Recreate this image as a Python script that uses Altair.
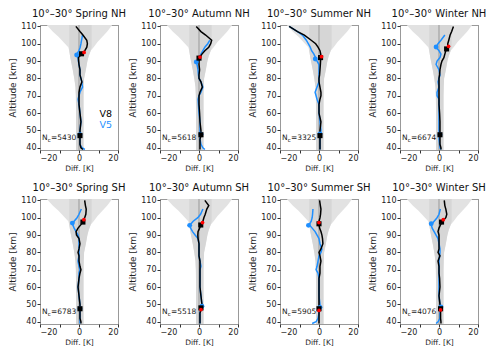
import altair as alt
import pandas as pd

# Altitude grid (km) shared by all profiles
ALT = [39, 40, 42, 45, 47, 50, 55, 60, 65, 68, 70, 72, 75, 78, 80, 82, 85, 88,
       90, 92, 94, 96, 98, 100, 102, 105, 107, 110]

PANELS = ["Spring NH", "Autumn NH", "Summer NH", "Winter NH",
          "Spring SH", "Autumn SH", "Summer SH", "Winter SH"]
NC = [5430, 5618, 3325, 6674, 6783, 5518, 5905, 4076]

N = None
V8 = [
    [2, 1, 0.5, 0.5, 0.5, 0.5, 1, 0.5, 0, 0, 0, 0, 0.5, 1.5, 1, 0.5, 0.5, 0, -0.2, -0.3, 1.3, 3, 4, 4.3, 4, 2, 0.5, -1.6],
    [0.5, 0.5, 0.5, 0.5, 1, 1, 0.5, 0.3, 0, 0, 0, 0.5, 1.7, 1, 0, 0, 0.3, 0, 0, 0.3, 1.5, 3, 5, 6, 6.5, 3.4, 1, -1.4],
    [0.5, 0.5, 0.5, 0.5, 0.5, 0.5, 1, 0, 0, 0.5, 1, 1, 0.5, 0, 0, 0.3, 0.5, 0.7, 0.8, 0.9, 0.9, 0.5, -0.5, -1.7, -4, -7.5, -11, -15.3],
    [1, 1, 0.5, 0.5, 0.5, 0.5, 0.5, 0.3, 0, 0, 0, 0, 0, 0, 0, 0.3, 0.5, 1, 1.5, 2.5, 3, 3.5, 4.5, 4.5, 5, 5.7, 6.5, 7.4],
    [1, 1, 0.5, 0.5, 0.5, 0.5, 0, -0.5, 0, 0.5, 1, 0.5, 0, 0, -0.5, 0, 0.5, 0, -1.3, -1.5, -0.5, 1, 2.2, 2.9, 3.5, 3.7, 3.3, 2.9],
    [0.5, 0.5, 0.5, 0.5, 1, 1.5, 1, 0.5, 0.5, 0.5, 0.5, 0.5, 0.5, 0, 0, 0, 0, -0.5, -0.6, -0.5, 0.3, 1, 2, 2.5, 3.2, 4, 5, 3],
    [0, 0, 0, 0, 0, 0, 0, 0, 0, 0.5, 0.5, 0.5, 1, 0.5, 0, 1, 2, 1.8, 1.5, 1, 0.3, 0, 0, 0.5, 0.8, 1, 0.7, 0.3],
    [1, 1, 0.8, 0.8, 0.8, 0.5, 0, 0.5, 0.3, 0, 0, 0, -0.5, 0.5, -0.5, 0, 0, 0, 0, -0.5, 0, 0.8, 1.8, 3.5, 4, 3.5, 3, 2.7],
]
V5 = [
    [3, 1.5, 0.5, 0.5, 0.5, 0.5, 1, 0.5, 0, -0.5, 0, 0.5, 1.8, 1.4, 1, 0.5, 0.5, 0, -0.3, -0.5, -1.2, 0, 0.6, 1, 1.3, 1.8, N, N],
    [3, 2, 1, 0.5, 0.5, 0.5, 0.5, 0, -0.3, -0.5, 0, 1, 2, 1, 0, -0.3, -0.5, -1, -1.2, 0, 1, 2, 3, 4.5, 5.5, N, N, N],
    [0.5, 0.5, 0.5, 0.5, 0.5, 1, 0.5, 0, 0, -1, -1.5, -2, -1, 0, 0, 0, 0, 0, -1, -1.8, -2.6, -3.8, -4.5, -5.5, -6.5, -8.5, -11, -15.3],
    [1, 0.5, 0.3, 0, 0.3, 0, 0, 0, 0, 0, -1, -1, 0, -0.5, 0, 0.5, 0, -1.5, -1, 0.5, 1, 0, -1.5, -0.5, 1, 3, N, N],
    [0.5, 0.5, 0.5, 0.5, 0.5, 0.5, 0, -0.5, 0, 0, 0.5, 0, -0.5, 0, 0, 0, 0, 0, -0.5, -1.5, -2.5, -3.2, -2.5, -1, 0, 1.2, N, N],
    [0.5, 0.5, 0.5, 0.5, 1, 1.5, 1, 0.5, 0.5, 0.5, 0.5, 1, 0.5, 0, 0, 0, 0, -0.5, -2, -3.3, -4.3, -4.5, -3, -0.6, 0.8, 2, N, N],
    [-3.5, -1.5, -0.5, 0, 0.5, 0.5, 0, 0, 0, -0.5, -1.5, -1, -0.5, 0, 1, 1.5, 0.5, 0, -1, -2, -3.5, -5, -4, -3.5, -3.3, -3.1, N, N],
    [-1.5, -0.5, 0.5, 0.5, 1, 0.5, 0, 0, 0, 0, 0, 0, 0, 0.3, 0.5, 0.5, 0, -0.5, -1.5, -2.5, -3.5, -4, -2.5, -1, 0, 0.7, N, N],
]

# Marker points (diff, altitude)
V8_UP = [(1.3, 94.2), (0, 91.7), (0.8, 92), (3.9, 97), (2, 97.5), (0.9, 95.8), (0, 96.5), (1.3, 97.5)]
RED_UP = [(2.6, 95), (0.5, 92.3), (1.3, 92.5), (4.9, 98.5), (2.5, 98.9), (1.8, 97.2), (0, 97.2), (2.2, 98.9)]
V5_UP = [(-1.2, 93.5), (-1.4, 89.5), (-1.9, 91.2), (-1.5, 98.1), (-3.4, 96.9), (-4.8, 95.6), (-5.4, 95.6), (-4, 96.5)]
V8_LO = [(0.5, 47), (1, 47.5), (0.5, 47), (0.5, 47.5), (0.5, 47.5), (1, 48), (0, 47.5), (0.8, 47.5)]
V5_LO = [(0.5, 47.5), (1, 47.8), (0.5, 48), (0.5, 47.5), (0.5, 47.5), (1.5, 49), (0.5, 48.3), (1, 48.5)]
RED_LO = [N, N, N, N, N, (1, 47), (0, 46.5), (0.8, 46.8)]

# Variability band (grey shading)
BAND_ALT = [38.7, 50, 60, 70, 75, 80, 85, 90, 93, 96, 98, 101, 104, 107, 110.8]
OUTER_LO = [-1.5, -1.5, -1.5, -1.6, -1.8, -2.4, -3.2, -4.1, -4.6, -5, -5.5, -8, -10.5, -13.5, -16.5]
OUTER_HI = [2.3, 2.3, 2.3, 2.3, 2.4, 2.6, 3.5, 4.3, 5.0, 6, 7.5, 9.5, 12, 14.5, 17]
INNER_LO = [-1.5, -1.5, -1.5, -1.6, -1.8, -2.4, -3.2, -4.1, -4.6, -5, -5, -5, -5, -5, -5]
INNER_HI = [2.3, 2.3, 2.3, 2.3, 2.4, 2.6, 3.5, 4.3, 5.0, 6, 6.5, 6.5, 6.5, 6.5, 6.5]

X_DOMAIN = [-20, 20]
Y_DOMAIN = [38.7, 110.8]
X_TICKS = [-20, -10, 0, 10, 20]
Y_TICKS = [40, 50, 60, 70, 80, 90, 100, 110]

BLUE = "#1e8fff"
FONT = "DejaVu Sans"

xscale = alt.Scale(domain=X_DOMAIN, nice=False)
yscale = alt.Scale(domain=Y_DOMAIN, nice=False, zero=False)
xaxis = alt.Axis(title="Diff. [K]", values=X_TICKS, titleFontSize=7.5, titlePadding=2)
yaxis = alt.Axis(title="Altitude [km]", values=Y_TICKS, titleFontSize=9, titlePadding=3)


def X(field):
    return alt.X(field, type="quantitative", scale=xscale, axis=xaxis)


def Y(field):
    return alt.Y(field, type="quantitative", scale=yscale, axis=yaxis)


band = pd.DataFrame({"alt": BAND_ALT, "olo": OUTER_LO, "ohi": OUTER_HI,
                     "ilo": INNER_LO, "ihi": INNER_HI})


def pts(lst):
    return pd.DataFrame([{"diff": p[0], "alt": p[1]} for p in lst if p is not None])


def panel(i):
    d8 = pd.DataFrame({"alt": ALT, "diff": V8[i]})
    d5 = pd.DataFrame({"alt": ALT, "diff": V5[i]}).dropna()

    outer = alt.Chart(band).mark_area(orient="horizontal", color="#e2e2e2").encode(
        y=Y("alt"), x=X("olo"), x2="ohi")
    inner = alt.Chart(band).mark_area(orient="horizontal", color="#d6d6d6").encode(
        y=Y("alt"), x=X("ilo"), x2="ihi")
    zero = alt.Chart(pd.DataFrame({"z": [0]})).mark_rule(color="#999999", strokeWidth=1).encode(x=X("z"))
    l5 = alt.Chart(d5).mark_line(color=BLUE, strokeWidth=1.5).encode(x=X("diff"), y=Y("alt"), order="alt:Q")
    l8 = alt.Chart(d8).mark_line(color="black", strokeWidth=1.5).encode(x=X("diff"), y=Y("alt"), order="alt:Q")

    b5 = alt.Chart(pts([V5_UP[i], V5_LO[i]])).mark_circle(color=BLUE, size=24, opacity=1).encode(
        x=X("diff"), y=Y("alt"))
    sq = alt.Chart(pts([V8_UP[i], V8_LO[i]])).mark_square(color="black", size=26, opacity=1).encode(
        x=X("diff"), y=Y("alt"))
    red = alt.Chart(pts([RED_UP[i], RED_LO[i]])).mark_circle(color="#ff0000", size=14, opacity=1).encode(
        x=X("diff"), y=Y("alt"))

    lab = pd.DataFrame({"x": [-19], "y": [45.5]})
    t1 = alt.Chart(lab).mark_text(text="N", align="left", baseline="middle", font=FONT, fontSize=7.5,
                                  color="#222").encode(x=X("x"), y=Y("y"))
    t2 = alt.Chart(lab).mark_text(text="c", align="left", baseline="middle", font=FONT, fontSize=5.5,
                                  dx=5.8, dy=2, color="#222").encode(x=X("x"), y=Y("y"))
    t3 = alt.Chart(lab).mark_text(text="=" + str(NC[i]), align="left", baseline="middle", font=FONT,
                                  fontSize=7.5, dx=9, color="#222").encode(x=X("x"), y=Y("y"))
    layers = [outer, inner, zero, l5, l8, b5, sq, red, t1, t2, t3]

    if i == 0:
        leg = pd.DataFrame({"x": [17, 17], "y": [59.3, 53.3], "t": ["V8", "V5"], "c": ["black", BLUE]})
        tl = alt.Chart(leg).mark_text(align="right", baseline="middle", font=FONT, fontSize=9.5).encode(
            x=X("x"), y=Y("y"), text="t:N", color=alt.Color("c:N", scale=None))
        layers.append(tl)

    return alt.layer(*layers).properties(
        width=78, height=125,
        title=alt.TitleParams("10°–30° " + PANELS[i], fontSize=10, font=FONT, fontWeight="normal",
                              color="#111", offset=3),
    )


chart = alt.concat(*[panel(i) for i in range(8)], columns=4,
                   spacing=alt.RowColnumber(row=49, column=42), bounds="flush").properties(
    padding={"left": 0, "top": 0, "right": 0, "bottom": 0}
).configure_view(
    stroke="#333", strokeWidth=1, strokeDash=[1, 1]
).configure_axis(
    domain=False, grid=False, ticks=True, tickSize=3, tickColor="#333",
    labelFont=FONT, labelFontSize=8, labelColor="#222", labelPadding=1,
    titleFont=FONT, titleFontWeight="normal", titleColor="#222",
)

chart.save("out.html", embed_options={"renderer": "svg", "actions": False})
